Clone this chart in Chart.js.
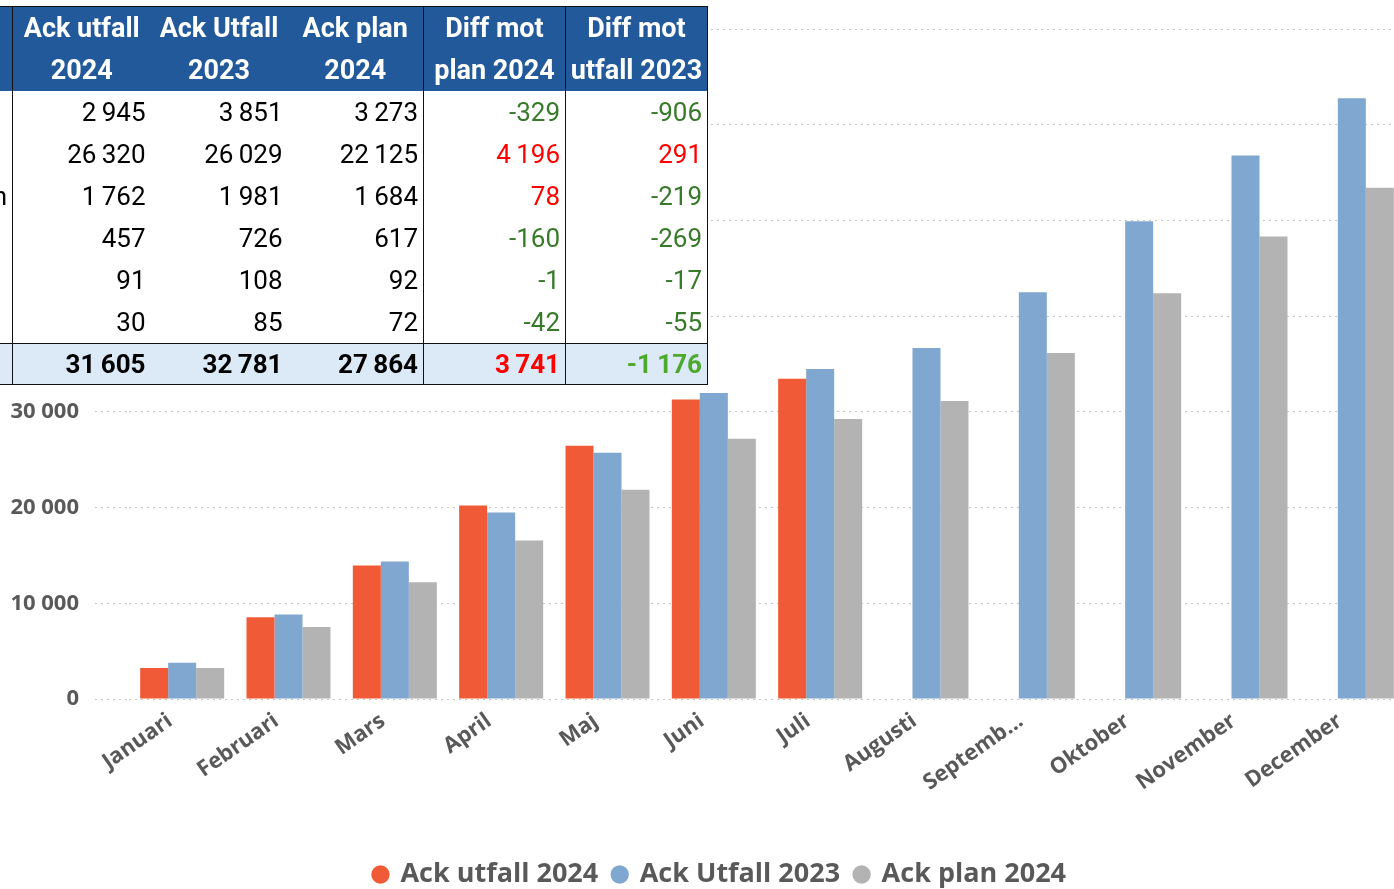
<!DOCTYPE html>
<html>
<head>
<meta charset="utf-8">
<title>Ack utfall 2024</title>
<script src="https://cdn.jsdelivr.net/npm/chart.js@4.4.1/dist/chart.umd.min.js"></script>
<style>
html, body { margin:0; padding:0; background:#fff; width:1394px; height:889px; overflow:hidden; }
#chartWrap { position:absolute; left:0; top:0; width:1440px; height:898px; }
#summary {
	position:absolute; left:-150px; top:6px; z-index:2;
	border-collapse:collapse; table-layout:fixed;
	font-family:Roboto, 'Noto Sans', sans-serif; font-size:26px; color:#000;
	border:1.5px solid #111;
}
#summary th {
	background:#22599a; color:#fff; font-weight:bold; text-align:center; font-size:27px;
	height:42px; line-height:42px; padding:0; white-space:nowrap;
}
#summary td {
	background:#fff; text-align:right; padding:0 5px 0 0; height:42px; line-height:42px; white-space:nowrap;
}
#summary tr.total td { background:#dce9f7; font-weight:bold; height:40px; line-height:40px; border-top:1px solid #111; }
#summary .sep { border-right:1px solid #111; }
#summary .neg { color:#377a2a; }
#summary .pos { color:#ff0000; }
#summary tr.total .neg { color:#4da82e; }
</style>
</head>
<body>
<div id="chartWrap"><canvas id="ackChart"></canvas></div>
<table id="summary">
	<colgroup>
		<col style="width:162px"><col style="width:138px"><col style="width:137px"><col style="width:136px"><col style="width:142px"><col style="width:142px">
	</colgroup>
	<thead></thead>
	<tbody></tbody>
</table>
<script>
/*************************
DATA
*************************/

const months = ['Januari', 'Februari', 'Mars', 'April', 'Maj', 'Juni', 'Juli', 'Augusti', 'Septemb...', 'Oktober', 'November', 'December'];
const ackUtfall2024 = [3230, 8540, 13960, 20210, 26460, 31300, 33480, null, null, null, null, null];
const ackUtfall2023 = [3790, 8820, 14370, 19480, 25730, 31980, 34480, 36670, 42500, 49930, 56800, 62780];
const ackPlan2024 = [3230, 7530, 12190, 16560, 21880, 27190, 29270, 31150, 36150, 42400, 48330, 53440];

//the table above the chart
const tableHeadTop = ['', 'Ack utfall', 'Ack Utfall', 'Ack plan', 'Diff mot', 'Diff mot'];
const tableHeadBottom = ['', '2024', '2023', '2024', 'plan 2024', 'utfall 2023'];
const rowLabels = ['', '', 'n', '', '', ''];
const tabUtfall2024 = [2945, 26320, 1762, 457, 91, 30];
const tabUtfall2023 = [3851, 26029, 1981, 726, 108, 85];
const tabPlan2024 = [3273, 22125, 1684, 617, 92, 72];
const tabDiffPlan = [-329, 4196, 78, -160, -1, -42];
const tabDiffUtfall = [-906, 291, -219, -269, -17, -55];
const tabTotals = [31605, 32781, 27864, 3741, -1176];

//colors
const orange = '#f15a36';
const blue = '#80a7d0';
const grey = '#b3b3b3';
const textGrey = '#595959';
const gridGrey = '#c4c4c4';
const chartFont = "'Open Sans', 'DejaVu Sans', sans-serif";

/*************************
TABLE
*************************/

function FormatNumber(value, sep){
	const sign = value < 0 ? '-' : '';
	return sign + String(Math.abs(value)).replace(/\B(?=(\d{3})+(?!\d))/g, sep);
}

function DiffClass(value){
	return value > 0 ? 'pos' : 'neg';
}

const thead = document.querySelector('#summary thead');
const tbody = document.querySelector('#summary tbody');

[tableHeadTop, tableHeadBottom].forEach((line) => {
	const tr = document.createElement('tr');
	line.forEach((text, i) => {
		const th = document.createElement('th');
		th.textContent = text;
		if(i === 0 || i === 3 || i === 4) th.className = 'sep';
		tr.appendChild(th);
	});
	thead.appendChild(tr);
});

rowLabels.forEach((label, r) => {
	const tr = document.createElement('tr');
	const cells = [
		[label, 'sep'],
		[FormatNumber(tabUtfall2024[r], '\u2009'), ''],
		[FormatNumber(tabUtfall2023[r], '\u2009'), ''],
		[FormatNumber(tabPlan2024[r], '\u2009'), 'sep'],
		[FormatNumber(tabDiffPlan[r], '\u2009'), 'sep ' + DiffClass(tabDiffPlan[r])],
		[FormatNumber(tabDiffUtfall[r], '\u2009'), DiffClass(tabDiffUtfall[r])],
	];
	cells.forEach(([text, cls]) => {
		const td = document.createElement('td');
		td.textContent = text;
		td.className = cls;
		tr.appendChild(td);
	});
	tbody.appendChild(tr);
});

//total row
const totalRow = document.createElement('tr');
totalRow.className = 'total';
['', ...tabTotals].forEach((value, i) => {
	const td = document.createElement('td');
	td.textContent = value === '' ? '' : FormatNumber(value, '\u2009');
	let cls = (i === 0 || i === 3 || i === 4) ? 'sep' : '';
	if(i >= 4) cls += ' ' + DiffClass(value);
	td.className = cls;
	totalRow.appendChild(td);
});
tbody.appendChild(totalRow);

/*************************
BAR GRAPH
*************************/

const barCanvas = document.querySelector('#ackChart').getContext('2d');

const barGraph = new Chart(barCanvas, {
	type: 'bar',
	data: {
		labels: months,
		datasets: [
			{label: 'Ack utfall 2024', data: ackUtfall2024, backgroundColor: orange},
			{label: 'Ack Utfall 2023', data: ackUtfall2023, backgroundColor: blue},
			{label: 'Ack plan 2024', data: ackPlan2024, backgroundColor: grey},
		],
	},
	options: {
		responsive: true,
		maintainAspectRatio: false,
		animation: false,
		datasets: {bar: {categoryPercentage: 0.79, barPercentage: 1}},
		layout: {padding: {top: 25, right: 0, bottom: 0, left: 0}},
		plugins: {
			tooltip: {enabled: false},
			legend: {
				position: 'bottom',
				labels: {
					usePointStyle: true,
					pointStyle: 'circle',
					boxWidth: 13,
					boxHeight: 13,
					padding: 15,
					color: textGrey,
					font: {family: chartFont, size: 27, weight: 'bold'},
				},
			},
		},
		scales: {
			x: {
				grid: {display: false, drawTicks: false},
				border: {display: false},
				ticks: {
					color: textGrey,
					font: {family: chartFont, size: 22, weight: 'bold'},
					minRotation: 35,
					maxRotation: 35,
					autoSkip: false,
					padding: 9,
					labelOffset: -12,
				},
				afterFit: (scale) => { scale.height = 147; },
			},
			y: {
				min: 0,
				max: 70000,
				border: {display: false, dash: [2, 4]},
				grid: {
					color: gridGrey,
					borderDash: [2, 4],
					tickLength: 34,
					tickColor: gridGrey,
					tickBorderDash: [2, 4],
				},
				ticks: {
					stepSize: 10000,
					color: textGrey,
					padding: 16,
					font: {family: chartFont, size: 22, weight: 'bold'},
					callback: (value) => FormatNumber(value, ' '),
				},
				afterFit: (scale) => { scale.width = 129; },
			},
			//empty right-hand strip so the plot ends where the picture is cut
			yRight: {
				position: 'right',
				display: true,
				grid: {display: false, drawTicks: false},
				border: {display: false},
				ticks: {display: false},
				afterFit: (scale) => { scale.width = 35; },
			},
		},
	},
});
</script>
</body>
</html>
